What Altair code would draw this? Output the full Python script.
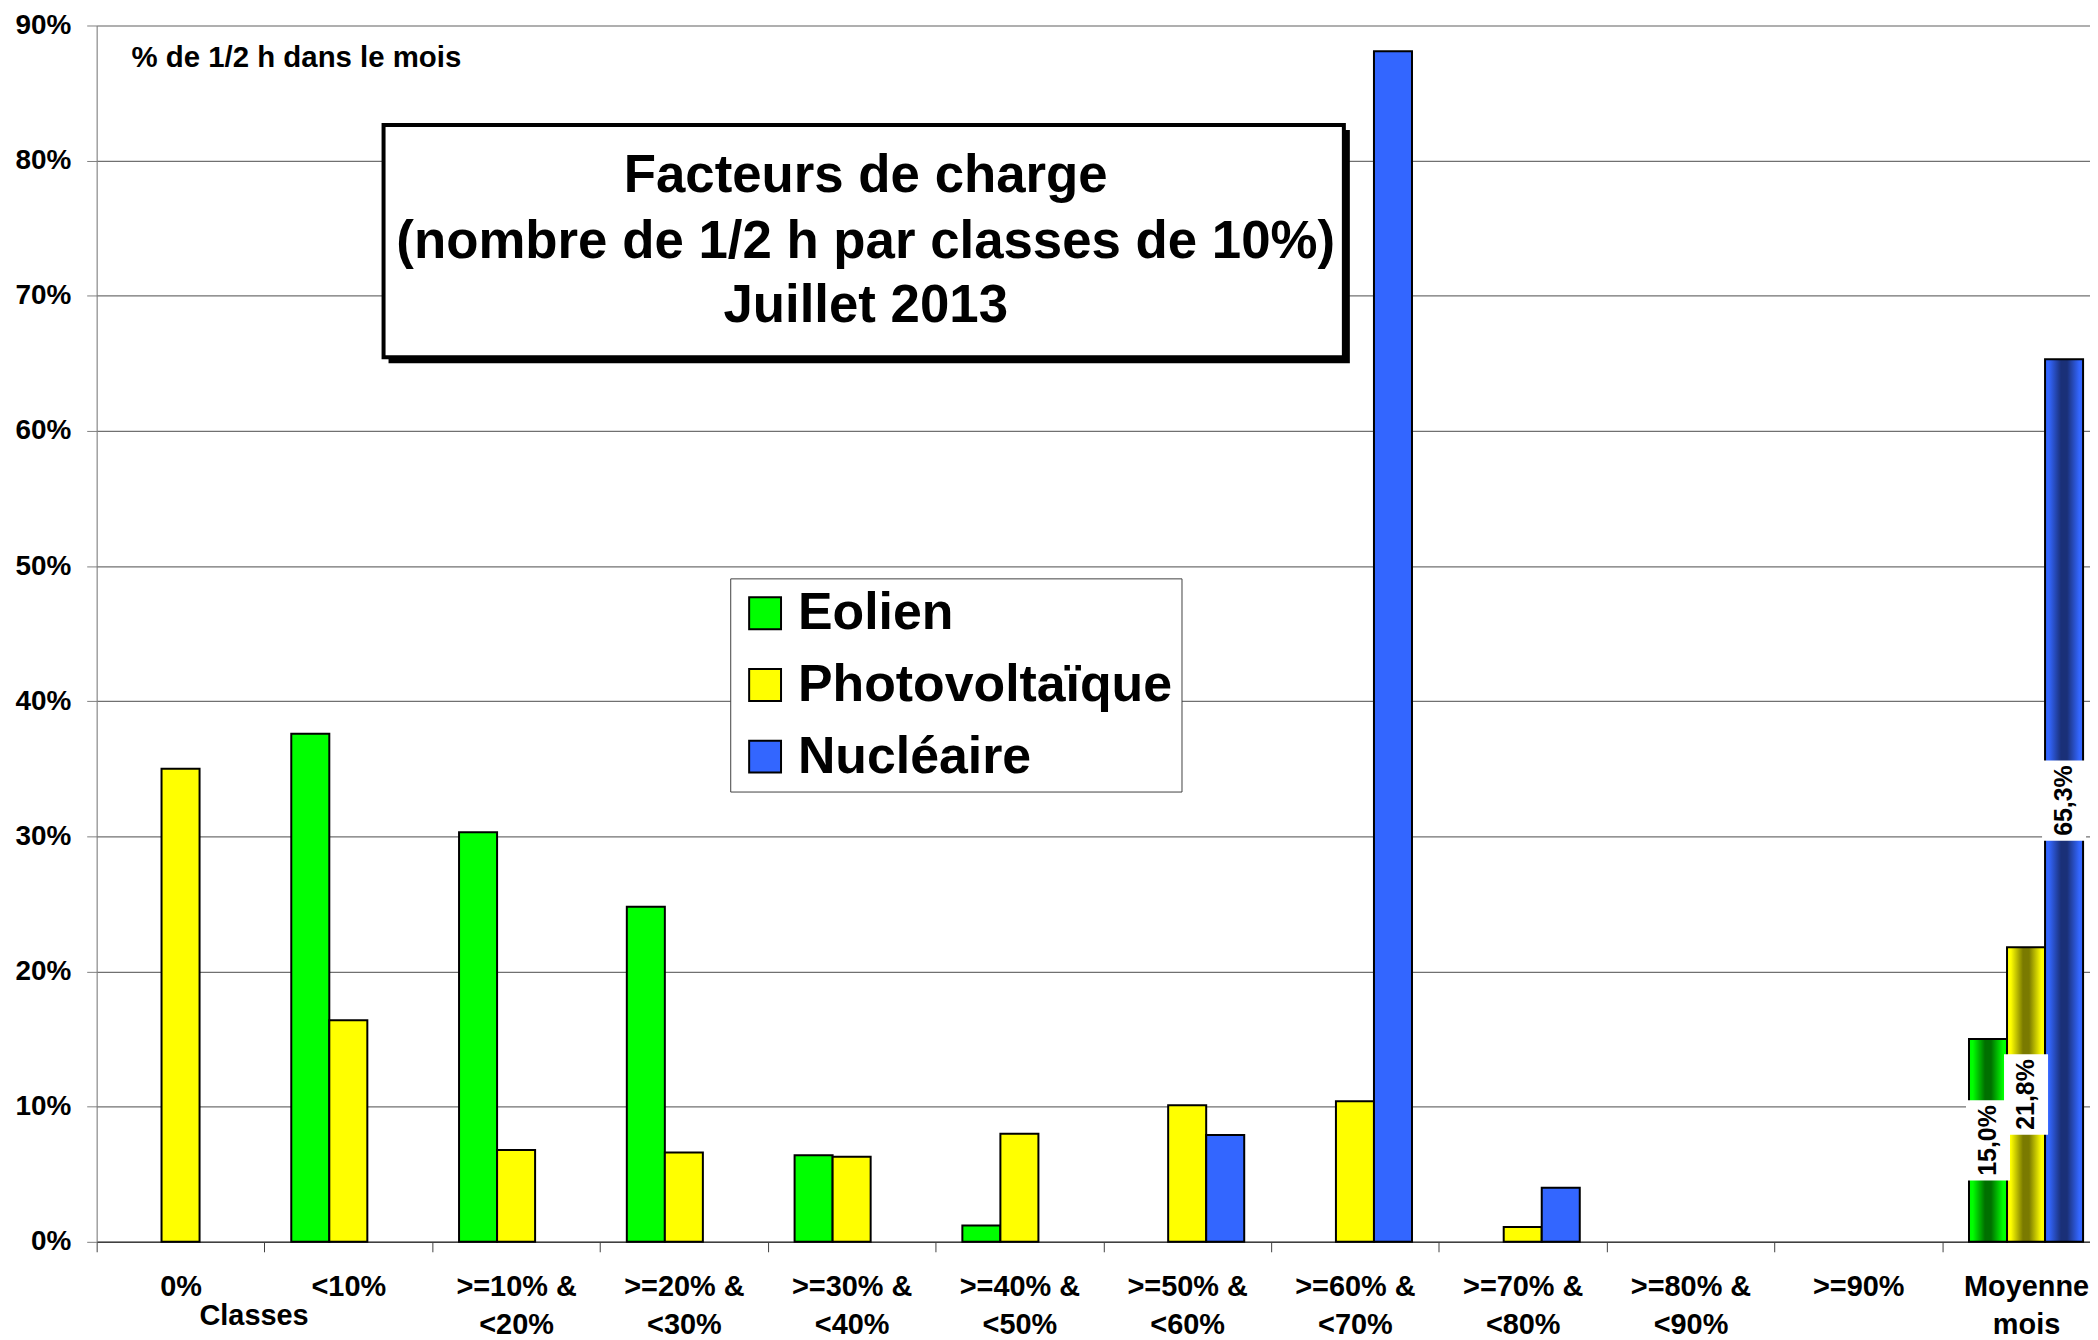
import altair as alt
import pandas as pd

# ---------------- data ----------------
categories = ["0%", "<10%", ">=10% &|<20%", ">=20% &|<30%", ">=30% &|<40%",
              ">=40% &|<50%", ">=50% &|<60%", ">=60% &|<70%", ">=70% &|<80%",
              ">=80% &|<90%", ">=90%", "Moyenne|mois"]
series = ["Eolien", "Photovoltaïque", "Nucléaire"]
eolien = [0, 37.6, 30.3, 24.8, 6.4, 1.2, 0, 0, 0, 0, 0, 15.0]
photovoltaique = [35.0, 16.4, 6.8, 6.6, 6.3, 8.0, 10.1, 10.4, 1.1, 0, 0, 21.8]
nucleaire = [0, 0, 0, 0, 0, 0, 7.9, 88.1, 4.0, 0, 0, 65.3]
y_ticks = [0, 10, 20, 30, 40, 50, 60, 70, 80, 90]
title_lines = ["Facteurs de charge", "(nombre de 1/2 h par classes de 10%)", "Juillet 2013"]
note_text = "% de 1/2 h dans le mois"
x_title = "Classes"
avg_category = "Moyenne|mois"

# ---------------- styles ----------------
colors = ["#00FF00", "#FFFF00", "#3366FF"]
dark_colors = ["#007000", "#7A7A00", "#1A3078"]
FONT = "Liberation Sans"
X_RANGE = 2021
PAD_IN = 0.32
STEP = X_RANGE / len(categories)
HALF_GAP = PAD_IN * STEP / 2

rows = []
for s, vals in zip(series, [eolien, photovoltaique, nucleaire]):
    for c, v in zip(categories, vals):
        if v > 0:
            rows.append({"cat": c, "serie": s, "val": v,
                         "label": f"{v:.1f}".replace(".", ",") + "%"})
df = pd.DataFrame(rows)
df_main = df[df.cat != avg_category]
df_avg = df[df.cat == avg_category]

x_scale = alt.Scale(domain=categories, range=[0, X_RANGE], paddingInner=PAD_IN, paddingOuter=PAD_IN / 2)
off_scale = alt.Scale(domain=series, paddingInner=0, paddingOuter=0)
y_scale = alt.Scale(domain=[0, 90], nice=False)

x_axis = alt.Axis(title=None, labelExpr="split(datum.label, '|')", labelAngle=0,
                  labelFont=FONT, labelFontSize=29, labelFontWeight="bold",
                  labelColor="black", labelLineHeight=38, labelPadding=21,
                  labelBaseline="top", labelLimit=400,
                  bandPosition=0, tickOffset=-HALF_GAP, labelOffset=HALF_GAP,
                  tickSize=10, tickColor="#404040",
                  domainColor="#404040", domainWidth=1.5, grid=False)
y_axis = alt.Axis(title=None, values=y_ticks, labelExpr="datum.value + '%'",
                  labelFont=FONT, labelFontSize=28, labelFontWeight="bold",
                  labelColor="black", labelPadding=16, tickSize=10,
                  tickColor="#808080", domainColor="#808080",
                  grid=True, gridColor="#707070", gridWidth=1.2)

legend = alt.Legend(title=None, orient="none", legendX=636, legendY=555,
                    fillColor="white", strokeColor="#404040", padding=9,
                    labelFont=FONT, labelFontSize=52, labelFontWeight="bold",
                    labelColor="black", symbolType="square", symbolSize=1024,
                    symbolStrokeColor="black", symbolStrokeWidth=2,
                    rowPadding=20, labelOffset=7, labelLimit=600)


def enc_x():
    return alt.X("cat:N", scale=x_scale, axis=x_axis, sort=categories)


def enc_off():
    return alt.XOffset("serie:N", scale=off_scale, sort=series)


def enc_y(field):
    return alt.Y(field, scale=y_scale, axis=y_axis)


main = alt.Chart(df_main).mark_bar(stroke="black", strokeWidth=2).encode(
    x=enc_x(), xOffset=enc_off(), y=enc_y("val:Q"),
    color=alt.Color("serie:N", scale=alt.Scale(domain=series, range=colors),
                    legend=legend, sort=series),
)

layers = [main]
for s, c, d in zip(series, colors, dark_colors):
    grad = alt.Gradient(gradient="linear", x1=0, x2=1, y1=0, y2=0,
                        stops=[alt.GradientStop(color=c, offset=0),
                               alt.GradientStop(color=c, offset=0.1),
                               alt.GradientStop(color=d, offset=0.42),
                               alt.GradientStop(color=d, offset=0.58),
                               alt.GradientStop(color=c, offset=0.9),
                               alt.GradientStop(color=c, offset=1)])
    layers.append(
        alt.Chart(df_avg[df_avg.serie == s]).mark_bar(fill=grad, stroke="black", strokeWidth=2).encode(
            x=enc_x(), xOffset=enc_off(), y=enc_y("val:Q"),
        )
    )

boxes = alt.Chart(df_avg).transform_calculate(
    lo="datum.val / 2 - 2.75", hi="datum.val / 2 + 2.75"
).mark_bar(fill="white", stroke="white", strokeWidth=6).encode(
    x=enc_x(), xOffset=enc_off(), y=enc_y("lo:Q"), y2="hi:Q",
)
labels = alt.Chart(df_avg).transform_calculate(
    mid="datum.val / 2"
).mark_text(angle=270, font=FONT, fontSize=25, fontWeight="bold", color="black",
            align="center", baseline="middle").encode(
    x=enc_x(), xOffset=enc_off(), y=enc_y("mid:Q"), text="label:N",
)
layers += [boxes, labels]

one = pd.DataFrame({"k": [0]})
shadow = alt.Chart(one).mark_rect(fill="black").encode(
    x=alt.value(293), x2=alt.value(1258), y=alt.value(105), y2=alt.value(339))
box = alt.Chart(one).mark_rect(fill="white", stroke="black", strokeWidth=4).encode(
    x=alt.value(288), x2=alt.value(1252), y=alt.value(100), y2=alt.value(333))
layers += [shadow, box]
for line, ypos in zip(title_lines, [151, 217, 282]):
    layers.append(
        alt.Chart(one).mark_text(font=FONT, fontSize=53, fontWeight="bold", color="black",
                                 align="center", baseline="middle").encode(
            x=alt.value(772), y=alt.value(ypos), text=alt.value(line))
    )
note = alt.Chart(one).mark_text(font=FONT, fontSize=29.5, fontWeight="bold", color="black",
                                align="left", baseline="middle").encode(
    x=alt.value(35), y=alt.value(33), text=alt.value(note_text))
classes = alt.Chart(one).mark_text(font=FONT, fontSize=29, fontWeight="bold", color="black",
                                   align="center", baseline="middle").encode(
    x=alt.value(158), y=alt.value(1296), text=alt.value(x_title))
layers += [note, classes]

chart = alt.layer(*layers).properties(
    width=2001, height=1221,
    autosize=alt.AutoSizeParams(type="none"),
    padding={"left": 89, "top": 15, "right": 0, "bottom": 96},
).configure_view(strokeWidth=0).configure(background="white")

chart.save("out.html", embed_options={"renderer": "svg", "actions": False})
